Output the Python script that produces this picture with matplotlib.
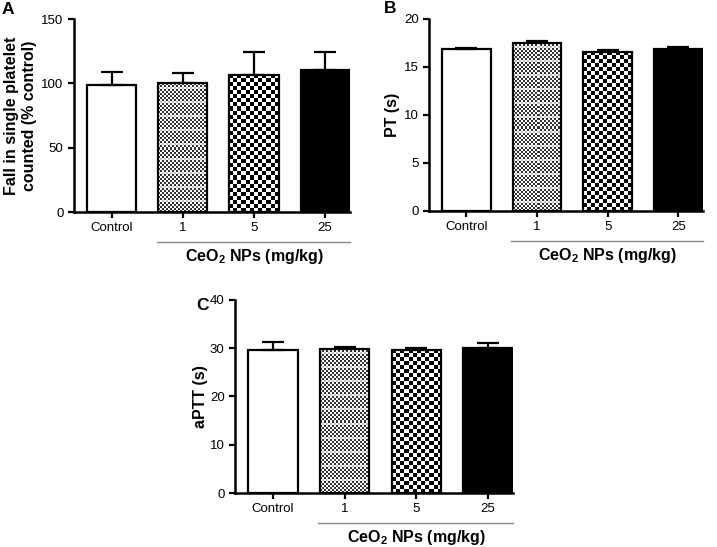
import numpy as np
import matplotlib.pyplot as plt
from matplotlib.transforms import blended_transform_factory

plt.rcParams['font.family'] = ['Liberation Sans', 'DejaVu Sans']
plt.rcParams['mathtext.fontset'] = 'custom'
plt.rcParams['mathtext.rm'] = 'Liberation Sans'
plt.rcParams['mathtext.bf'] = 'Liberation Sans:bold'

groups = ['Control', '1', '5', '25']

platelet_mean = [99, 100, 106.5, 110]
platelet_err = [9.5, 8, 17.5, 14]

pt_mean = [16.9, 17.55, 16.6, 16.85]
pt_err = [0.12, 0.12, 0.12, 0.2]

aptt_mean = [29.6, 29.9, 29.7, 30.1]
aptt_err = [1.7, 0.35, 0.35, 0.9]

XLIM = (-0.53, 3.35)


def checker(n_rows, n_cols, dark, light):
    rr, cc = np.indices((n_rows, n_cols))
    return np.where((rr + cc) % 2 == 0, dark, light).astype(float)


def fill_pattern(ax, bar, cell_px, dark, light, bands=False):
    x0, w, h = bar.get_x(), bar.get_width(), bar.get_height()
    p0 = ax.transData.transform((x0, 0))
    p1 = ax.transData.transform((x0 + w, h))
    n_cols = max(1, int(round((p1[0] - p0[0]) / cell_px)))
    n_rows = max(1, int(round((p1[1] - p0[1]) / cell_px)))
    arr = checker(n_rows, n_cols, dark, light)
    if bands:
        # lighter horizontal stripes seen in the fine pattern
        for r in range(2, n_rows, 7):
            arr[r, :] = np.maximum(arr[r, :], 0.75)
    im = ax.imshow(arr, extent=[x0, x0 + w, 0, h], aspect='auto', cmap='gray',
                   vmin=0, vmax=1, interpolation='nearest', zorder=2)
    im.set_clip_path(bar)


def draw_panel(ax, means, errs, ymax, ystep, ylabel, label_x):
    x = np.arange(len(groups))
    width = 0.69
    ax.set_xlim(*XLIM)
    ax.set_ylim(0, ymax)
    bars = ax.bar(x, means, width=width, color='white', edgecolor='none', zorder=1)
    ax.errorbar(x, means, yerr=[np.zeros(len(errs)), errs], fmt='none',
                ecolor='black', elinewidth=1.6, capsize=8, capthick=1.6, zorder=1.5)
    fill_pattern(ax, bars[1], 2, 0.2, 1.0, bands=True)
    fill_pattern(ax, bars[2], 4, 0.0, 1.0)
    bars[3].set_facecolor('black')
    ax.bar(x, means, width=width, fill=False, edgecolor='black', linewidth=1.6, zorder=3)

    ax.set_xlim(*XLIM)
    ax.set_ylim(0, ymax)
    ax.set_yticks(np.arange(0, ymax + 0.1, ystep))
    ax.set_xticks(x)
    ax.set_xticklabels(groups)
    ax.spines['top'].set_visible(False)
    ax.spines['right'].set_visible(False)
    ax.spines['left'].set_linewidth(1.8)
    ax.spines['bottom'].set_linewidth(1.8)
    ax.tick_params(direction='out', length=4, width=1.6, labelsize=9.5, pad=3.5)
    ax.set_ylabel(ylabel, fontsize=11.5, fontweight='bold', linespacing=1.25)
    ax.yaxis.set_label_coords(label_x, 0.5)

    trans = blended_transform_factory(ax.transData, ax.transAxes)
    ax.plot([1 - width / 2 - 0.02, XLIM[1]], [-0.155, -0.155], color='#888888',
            linewidth=1.0, transform=trans, clip_on=False)
    ax.text((1 - width / 2 + XLIM[1]) / 2, -0.23, r'CeO$_\mathbf{2}$ NPs (mg/kg)',
            transform=trans, ha='center', va='center', fontsize=11.5, fontweight='bold')


fig = plt.figure(figsize=(7.17, 5.47), dpi=100)
ax_a = fig.add_axes([0.1032, 0.6124, 0.3850, 0.3528])
ax_b = fig.add_axes([0.5983, 0.6143, 0.3822, 0.3510])
ax_c = fig.add_axes([0.3278, 0.0987, 0.3877, 0.3529])

draw_panel(ax_a, platelet_mean, platelet_err, 150, 50,
           'Fall in single platelet\ncounted (% control)', -0.134)
draw_panel(ax_b, pt_mean, pt_err, 20, 5, 'PT (s)', -0.106)
draw_panel(ax_c, aptt_mean, aptt_err, 40, 10, 'aPTT (s)', -0.097)

fig.text(0.002, 0.996, 'A', fontsize=12.5, fontweight='bold', va='top')
fig.text(0.535, 0.998, 'B', fontsize=12.5, fontweight='bold', va='top')
fig.text(0.274, 0.455, 'C', fontsize=12.5, fontweight='bold', va='top')

fig.savefig('out.png', dpi=100)
